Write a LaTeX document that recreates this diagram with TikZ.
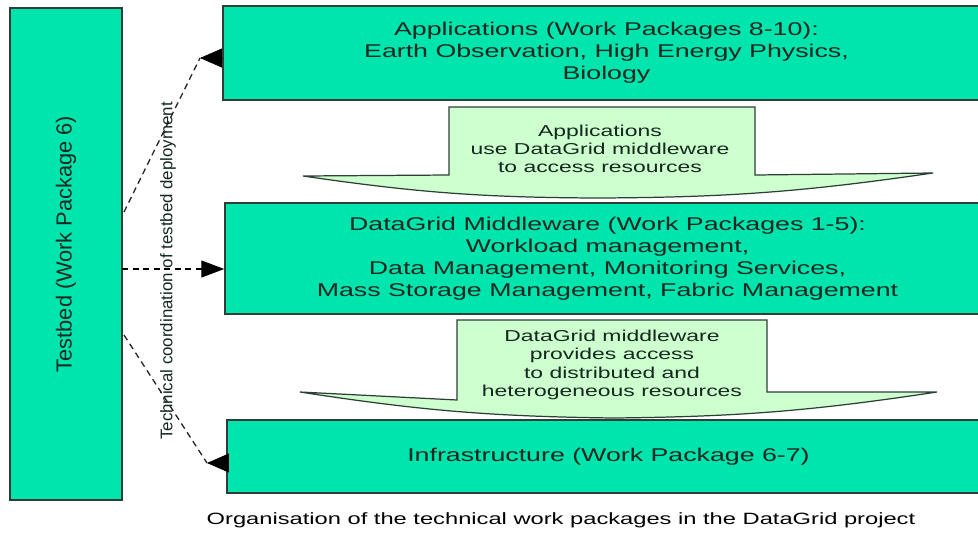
\documentclass[tikz,border=0pt]{standalone}
\usepackage{fontspec}
\setmainfont{Liberation Sans}[FakeStretch=1.45]
\newfontfamily\sidefont{Liberation Sans}
\usetikzlibrary{arrows.meta}
\usetikzlibrary{positioning}

\definecolor{wpgreen}{RGB}{0,228,174}
\definecolor{flowgreen}{RGB}{206,255,206}
\definecolor{wpline}{RGB}{45,62,55}
\definecolor{wptext}{RGB}{20,40,32}

\tikzset{
  wpbox/.style={fill=wpgreen, draw=wpline, line width=0.9pt, align=center, inner sep=0pt,
    text=wptext, font=\fontsize{10.5}{12.5}\selectfont},
  flowarrow/.style={fill=flowgreen, draw=wpline, line width=0.7pt, line join=miter},
  flowtext/.style={align=center, text=wptext, font=\fontsize{9}{10.4}\selectfont},
  deploy/.style={draw=black!85, dash pattern=on 3.5pt off 2.5pt, line width=0.75pt},
  deployhead/.style={{Triangle[length=0.44cm,width=0.38cm]}-, draw=black, fill=black, line width=0.5pt},
}

\begin{document}
\begin{tikzpicture}[x=0.02cm, y=-0.02cm]
  \useasboundingbox[fill=white] (0,0) rectangle (978,535);

  % work package boxes
  \node[wpbox, minimum width=2.24cm, minimum height=9.84cm] (tb) at (66,254) {};
  \node[rotate=90, text=wptext, font=\sidefont\fontsize{12.4}{14}\selectfont] (tblabel) at (66,244) {Testbed (Work Package 6)};

  \node[wpbox, minimum width=15.34cm, minimum height=1.88cm] (app) at (606.5,53)
    {Applications (Work Packages 8-10):\\Earth Observation, High Energy Physics,\\Biology};
  \node[wpbox, minimum width=15.3cm, minimum height=2.22cm] (mw) at (607.5,258.5)
    {DataGrid Middleware (Work Packages 1-5):\\Workload management,\\Data Management, Monitoring Services,\\Mass Storage Management, Fabric Management};
  \node[wpbox, minimum width=15.26cm, minimum height=1.46cm] (infra) at (608.5,456.5)
    {Infrastructure (Work Package 6-7)};

  % block arrows between the layers
  \draw[flowarrow] (449,107) -- (755,107) -- (755,175) -- (933,173)
    to[bend left=4] (597,198) to[bend left=4] (303,176) -- (449,175) -- cycle;
  \node[flowtext] (usetxt) at (600,149) {Applications\\use DataGrid middleware\\to access resources};

  \draw[flowarrow] (457,320) -- (767,320) -- (767,392) -- (937,392)
    to[bend left=4] (613,418) to[bend left=4] (300,392) -- (457,400) -- cycle;
  \node[flowtext] (accesstxt) at (612,365)
    {DataGrid middleware\\provides access\\to distributed and\\heterogeneous resources};

  % testbed deployment links
  \coordinate (tbup) at (124,212);
  \coordinate (tbmid) at (122,269);
  \coordinate (tbdown) at (124,335);
  \coordinate (apptip) at (200,58);
  \coordinate (infratip) at (207,463);

  \draw[deploy] (tbup) -- (apptip);
  \draw[deployhead] (apptip) -- (app.west |- apptip);
  \draw[deploy, draw=black, -{Triangle[length=0.46cm,width=0.34cm]}] (tbmid) -- (mw.west |- tbmid);
  \draw[deploy] (tbdown) -- (infratip);
  \draw[deployhead] (infratip) -- (infra.west |- infratip);

  \node[rotate=90, text=wptext, font=\sidefont\fontsize{9.6}{11}\selectfont] (coordlabel) at (168,271)
    {Technical coordination of testbed deployment};

  % caption
  \node[font=\fontsize{9.3}{11}\selectfont] (caption) at (561,520)
    {Organisation of the technical work packages in the DataGrid project};
\end{tikzpicture}
\end{document}
